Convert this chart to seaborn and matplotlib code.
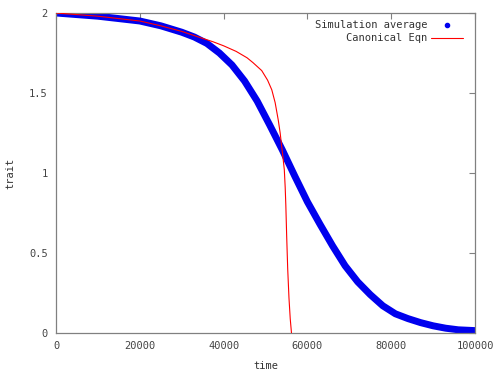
import matplotlib
matplotlib.use("Agg")
import matplotlib.pyplot as plt
from matplotlib.lines import Line2D
import seaborn as sns
import pandas as pd

# simulation average
sim_time = [0, 5000, 10000, 15000, 20000, 25000, 30000, 33000, 36000, 39000,
            42000, 45000, 48000, 51000, 54000, 57000, 60000, 63000, 66000,
            69000, 72000, 75000, 78000, 81000, 84000, 87000, 90000, 93000,
            96000, 100000]
sim_trait = [2.0, 1.99, 1.98, 1.965, 1.95, 1.92, 1.88, 1.85, 1.81, 1.75,
             1.675, 1.575, 1.45, 1.30, 1.145, 0.98, 0.82, 0.68, 0.545,
             0.42, 0.32, 0.24, 0.17, 0.12, 0.09, 0.065, 0.045, 0.03,
             0.02, 0.015]

# canonical equation
eqn_time = [0, 5000, 10000, 15000, 20000, 25000, 30000, 34000, 37500, 40000,
            43000, 45600, 47000, 49100, 50500, 51500, 52300, 53050, 53500,
            53870, 54200, 54490, 54700, 54850, 55060, 55300, 55600, 55900,
            56200]
eqn_trait = [2.0, 1.99, 1.98, 1.965, 1.95, 1.92, 1.885, 1.85, 1.82, 1.795,
             1.76, 1.72, 1.69, 1.64, 1.58, 1.52, 1.44, 1.33, 1.25,
             1.165, 1.09, 1.02, 0.91, 0.80, 0.60, 0.40, 0.22, 0.09,
             0.0]

x_ticks = [0, 20000, 40000, 60000, 80000, 100000]
y_ticks = [0, 0.5, 1, 1.5, 2]

sns.set_style("white")
plt.rcParams['font.family'] = ['DejaVu Sans Mono']

sim = pd.DataFrame({'time': sim_time, 'trait': sim_trait})
eqn = pd.DataFrame({'time': eqn_time, 'trait': eqn_trait})

fig = plt.figure(figsize=(4.93, 3.73), dpi=100)
ax = fig.add_axes([56 / 493, 1 - 333 / 373, 419 / 493, 320 / 373])

sns.lineplot(data=sim, x='time', y='trait', ax=ax, color='#0000ee',
             linewidth=5, zorder=2, solid_capstyle='round',
             solid_joinstyle='round')
sns.lineplot(data=eqn, x='time', y='trait', ax=ax, color='red',
             linewidth=0.8, zorder=3)

ax.set_xlim(0, 100000)
ax.set_ylim(0, 2)
ax.set_xticks(x_ticks)
ax.set_xticklabels([str(v) for v in x_ticks])
ax.set_yticks(y_ticks)
ax.set_yticklabels(['0', '0.5', '1', '1.5', '2'])
ax.tick_params(direction='in', length=4, width=0.8, colors='#808080',
               labelcolor='#444444', labelsize=7.5, top=True, right=True,
               pad=6)
for s in ax.spines.values():
    s.set_color('#808080')
    s.set_linewidth(0.9)

ax.set_xlabel('time', fontsize=7.5, color='#333333', labelpad=7)
ax.set_ylabel('trait', fontsize=7.5, color='#333333', labelpad=10)

handles = [Line2D([], [], marker='o', markersize=3, color='#0000ee', linestyle='none'),
           Line2D([], [], color='red', linewidth=0.8)]
ax.legend(handles, ['Simulation average', 'Canonical Eqn'], loc='upper right',
          bbox_to_anchor=(1 - 5 / 419, 1), markerfirst=False, frameon=False,
          fontsize=7.5, handlelength=3.0, handletextpad=0.4,
          labelspacing=0.3, borderaxespad=0.3, labelcolor='#333333')

fig.savefig('out.png', dpi=100)
